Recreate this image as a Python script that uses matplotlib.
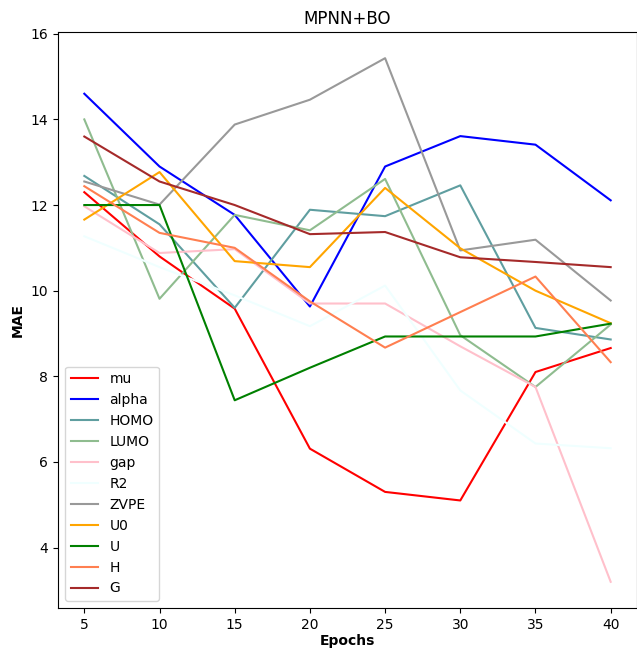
import matplotlib
matplotlib.use("Agg")
import matplotlib.pyplot as plt

epochs = [5, 10, 15, 20, 25, 30, 35, 40]

mu = [12.30, 10.80, 9.58, 6.31, 5.30, 5.10, 8.10, 8.66]
alpha = [14.60, 12.90, 11.77, 9.63, 12.90, 13.61, 13.41, 12.11]
homo = [12.68, 11.55, 9.60, 11.89, 11.74, 12.46, 9.13, 8.86]
lumo = [14.00, 9.81, 11.77, 11.41, 12.61, 8.96, 7.75, 9.21]
gap = [11.97, 10.88, 10.97, 9.70, 9.70, 8.70, 7.75, 3.20]
r2 = [11.27, 10.55, 9.89, 9.17, 10.12, 7.67, 6.43, 6.32]
zvpe = [12.55, 12.01, 13.88, 14.46, 15.43, 10.94, 11.19, 9.77]
u0 = [11.66, 12.77, 10.69, 10.55, 12.40, 10.99, 10.00, 9.24]
u = [12.00, 12.00, 7.44, 8.20, 8.93, 8.93, 8.93, 9.23]
h = [12.44, 11.35, 11.00, 9.75, 8.67, 9.50, 10.33, 8.33]
g = [13.60, 12.55, 12.00, 11.32, 11.37, 10.78, 10.67, 10.55]

series = [
    ("mu", mu, "red"),
    ("alpha", alpha, "blue"),
    ("HOMO", homo, "cadetblue"),
    ("LUMO", lumo, "darkseagreen"),
    ("gap", gap, "pink"),
    ("R2", r2, "azure"),
    ("ZVPE", zvpe, "#999999"),
    ("U0", u0, "orange"),
    ("U", u, "green"),
    ("H", h, "coral"),
    ("G", g, "brown"),
]

fig = plt.figure(figsize=(6.37, 6.48), dpi=100)
ax = fig.add_axes([58 / 637, 40 / 648, 579 / 637, 576 / 648])

for name, vals, col in series:
    ax.plot(epochs, vals, color=col, label=name)

ax.set_title("MPNN+BO")
ax.set_xlabel("Epochs", fontweight="bold", labelpad=2)
ax.set_ylabel("MAE", fontweight="bold")
ax.legend(loc="lower left")

fig.savefig("out.png", dpi=100)
